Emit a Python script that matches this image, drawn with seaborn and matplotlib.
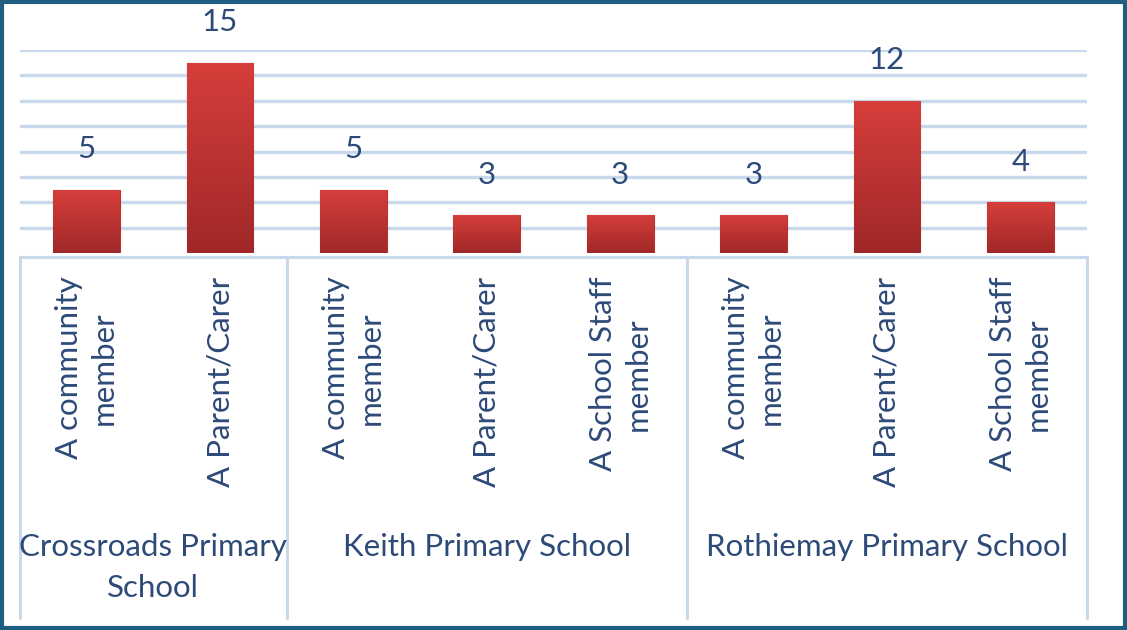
import numpy as np
import pandas as pd
import matplotlib
matplotlib.use("Agg")
import matplotlib.pyplot as plt
import matplotlib.transforms as mtransforms
from matplotlib.patches import Rectangle
import seaborn as sns

schools = ["Crossroads Primary\nSchool", "Keith Primary School", "Rothiemay Primary School"]
roles = ["A community\nmember", "A Parent/Carer",
         "A community\nmember", "A Parent/Carer", "A School Staff\nmember",
         "A community\nmember", "A Parent/Carer", "A School Staff\nmember"]
role_school = [0, 0, 1, 1, 1, 2, 2, 2]
counts = [5, 15, 5, 3, 3, 3, 12, 4]

df = pd.DataFrame({
    "key": [f"{i}" for i in range(len(roles))],
    "role": roles,
    "school": [schools[s] for s in role_school],
    "count": counts,
})

sns.set_theme(style="white")
plt.rcParams["font.family"] = ["Lato", "DejaVu Sans"]
TXT = "#2D4A78"
FS = 22.5

W, H, DPI = 11.27, 6.3, 100
fig = plt.figure(figsize=(W, H), dpi=DPI)
fig.patch.set_facecolor("white")
ax = fig.add_axes([20 / 1127, (630 - 253) / 630, 1067 / 1127, (253 - 50) / 630])

sns.barplot(data=df, x="key", y="count", color="#C03333", width=0.5,
            saturation=1, ax=ax, zorder=2)

# gradient fill on the bars
cmap = matplotlib.colors.LinearSegmentedColormap.from_list("g", ["#A02828", "#D63E3B"])
grad = np.linspace(0, 1, 256).reshape(-1, 1)
for p in ax.patches:
    x0, y0 = p.get_x(), p.get_y()
    w, h = p.get_width(), p.get_height()
    im = ax.imshow(grad, cmap=cmap, origin="lower", aspect="auto",
                   extent=[x0, x0 + w, y0, y0 + h], zorder=3)
    im.set_clip_path(p)
    p.set_edgecolor("#B83232")
    p.set_linewidth(0.8)

ax.set_xlim(-0.5, len(roles) - 0.5)
ax.set_ylim(0, 16)
ax.set_yticks(np.arange(2, 17, 2))
ax.set_yticklabels([])
ax.yaxis.grid(True, color="#C9D9EC", linewidth=2.4)
ax.set_axisbelow(True)
for s in ax.spines.values():
    s.set_visible(False)
ax.set_xlabel("")
ax.set_ylabel("")

# value labels
for i, v in enumerate(counts):
    ax.annotate(str(v), (i, v), xytext=(0, 19), textcoords="offset points",
                ha="center", va="bottom", fontsize=FS, color=TXT)

# category tick labels
ax.set_xticks(range(len(roles)))
ax.set_xticklabels(roles, rotation=90, ha="center", va="top",
                   multialignment="center", fontsize=FS, color=TXT,
                   linespacing=1.3)
ax.tick_params(axis="x", length=0, pad=17)
ax.tick_params(axis="y", length=0)

# axis line and group separators
tr = mtransforms.blended_transform_factory(ax.transData, fig.transFigure)
yb = (630 - 257) / 630
ax.plot([-0.5, len(roles) - 0.5], [yb, yb], transform=tr, color="#C9D9EC",
        lw=2.2, clip_on=False, zorder=1)
bounds = [-0.5, 1.5, 4.5, 7.5]
for b in bounds:
    ax.plot([b, b], [yb, (630 - 618) / 630], transform=tr, color="#C9D9EC",
            lw=2.2, clip_on=False, zorder=1)

# group labels
for gi, name in enumerate(schools):
    c = (bounds[gi] + bounds[gi + 1]) / 2
    ax.text(c, (630 - 533) / 630, name, transform=tr, ha="center", va="top",
            multialignment="center", fontsize=FS, color=TXT, linespacing=1.55)

# outer frame
fig.patches.append(Rectangle((0.0015, 0.0025), 0.997, 0.995, transform=fig.transFigure,
                             fill=False, edgecolor="#1F5E80", linewidth=3, zorder=10))

fig.savefig("out.png", dpi=DPI)
